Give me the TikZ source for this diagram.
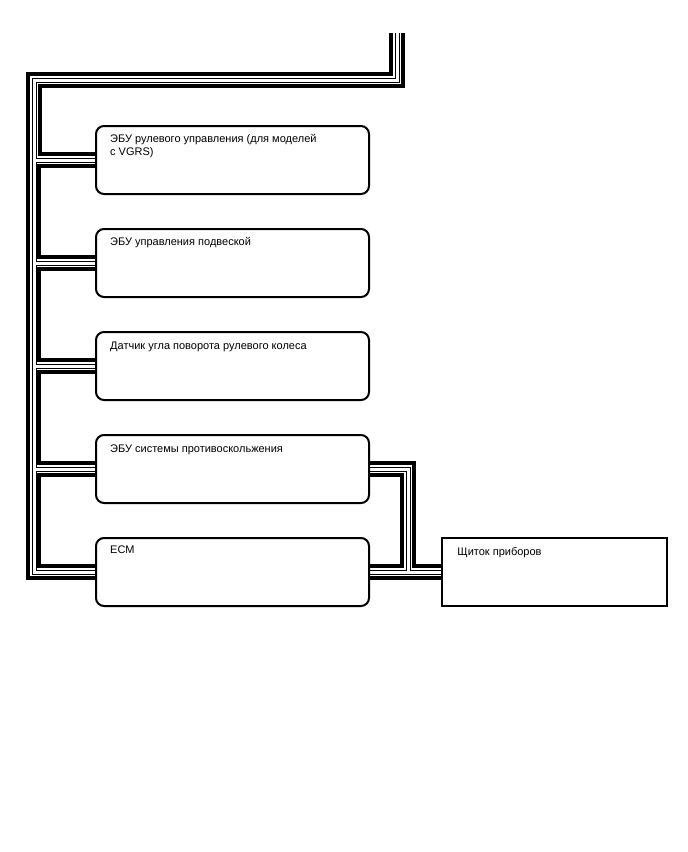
\documentclass[tikz,border=0pt]{standalone}
\usepackage{fontspec}
\setmainfont{Liberation Sans}
\usetikzlibrary{calc,backgrounds}

\tikzset{
    unit/.style={draw,line width=2pt,rounded corners=8pt,fill=white,
        minimum width=273pt,minimum height=68pt,inner sep=0pt},
    panel/.style={draw,line width=1.5pt,fill=white,
        minimum width=225pt,minimum height=68pt,inner sep=0pt},
    lbl/.style={anchor=north west,inner sep=0pt,align=left,
        font=\fontsize{11}{13}\selectfont},
    blk/.style={line width=3.5pt},
    wireout/.style={line width=5pt},
    wirein/.style={line width=3pt,white},
}

\begin{document}
\begin{tikzpicture}[x=1pt,y=-1pt]
    \useasboundingbox (0,0) rectangle (688,852);
    % units
    \node[unit] (steer) at (232.5,160) {};
    \node[unit] (susp)  at (232.5,263) {};
    \node[unit] (angle) at (232.5,366) {};
    \node[unit] (skid)  at (232.5,469) {};
    \node[unit] (ecm)   at (232.5,572) {};
    \node[panel] (meter) at (554.5,572) {};
    \node[lbl] (steertxt) at ($(steer.north west)+(15,9)$) {ЭБУ рулевого управления (для моделей\\с VGRS)};
    \node[lbl] (susptxt)  at ($(susp.north west)+(15,9)$)  {ЭБУ управления подвеской};
    \node[lbl] (angletxt) at ($(angle.north west)+(15,11)$) {Датчик угла поворота рулевого колеса};
    \node[lbl] (skidtxt)  at ($(skid.north west)+(15,11)$)  {ЭБУ системы противоскольжения};
    \node[lbl] (ecmtxt)   at ($(ecm.north west)+(15,9)$)   {ECM};
    \node[lbl] (metertxt) at ($(meter.north west)+(16,10)$) {Щиток приборов};
    % bus
    \coordinate (feed) at (397,33);
    \coordinate (bend) at (34,80);
    \begin{scope}[on background layer]
        \draw[blk] ($(feed)+(-6,0)$) |- ($(bend)+(-6,-6)$) |- ($(ecm.west)+(0,6)$);
        \draw[blk] ($(feed)+(6,0)$) |- ($(bend)+(6,6)$) |- ($(steer.west)+(0,-6)$);
        \foreach \a/\b in {steer/susp,susp/angle,angle/skid,skid/ecm}{
            \draw[blk] ($(\a.west)+(0,6)$) -- ++(-56,0) |- ($(\b.west)+(0,-6)$);
        }
        \draw[blk] ($(skid.east)+(0,-6)$) -- ++(44,0) |- ($(meter.west)+(0,-6)$);
        \draw[blk] ($(skid.east)+(0,6)$) -- ++(32,0) |- ($(ecm.east)+(0,-6)$);
        \draw[blk] ($(ecm.east)+(0,6)$) -- ($(meter.west)+(0,6)$);
        \foreach \s in {wireout,wirein}{
            \draw[\s] (feed) |- (bend) |- (ecm.west);
            \foreach \u in {steer,susp,angle,skid}{
                \draw[\s] (bend |- \u.west) -- (\u.west);
            }
            \draw[\s] (skid.east) -- ++(38,0) coordinate (tee) |- (ecm.east);
            \draw[\s] (tee |- meter.west) -- (meter.west);
        }
    \end{scope}
\end{tikzpicture}
\end{document}
